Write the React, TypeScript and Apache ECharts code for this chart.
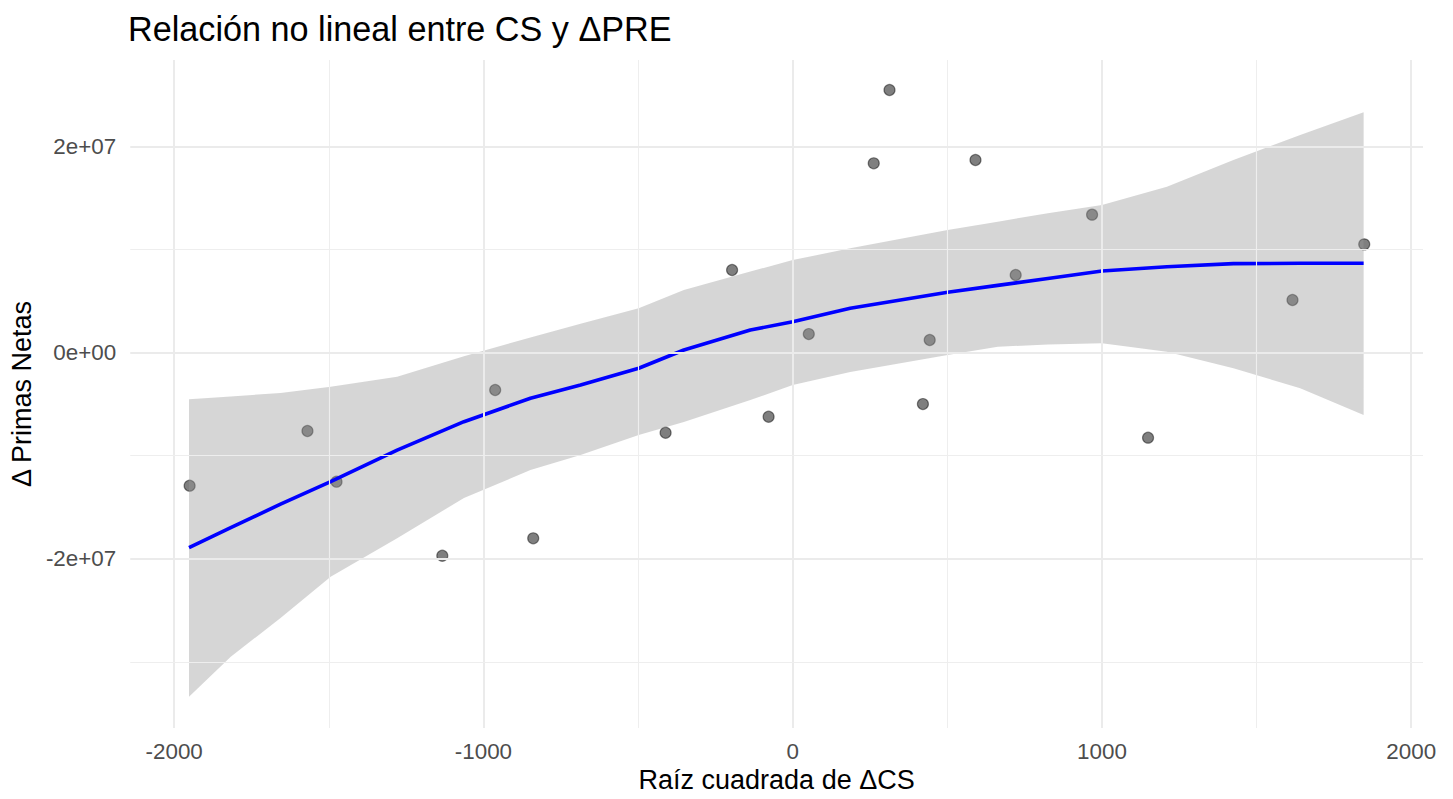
import React, { useEffect, useRef } from "react";
import * as echarts from "echarts";

// Observed points (x: raíz cuadrada de ΔCS, y: Δ Primas Netas)
const pointX = [-1950, -1569, -1475, -1133, -962, -839, -411, -196, -78, 52, 262, 313, 421, 443, 591, 721, 968, 1149, 1616, 1848];
const pointY = [-1.292e7, -0.761e7, -1.253e7, -1.971e7, -0.364e7, -1.802e7, -0.778e7, 0.8e7, -0.623e7, 0.179e7, 1.835e7, 2.546e7, -0.5e7, 0.121e7, 1.867e7, 0.752e7, 1.337e7, -0.826e7, 0.509e7, 1.049e7];

// Smoothed fit and its confidence band
const fitX = [-1952, -1817, -1656, -1494, -1279, -1063, -848, -686, -498, -352, -137, 0, 186, 501, 663, 825, 1000, 1210, 1425, 1641, 1846];
const fitY = [-1.893e7, -1.698e7, -1.471e7, -1.253e7, -0.946e7, -0.671e7, -0.444e7, -0.315e7, -0.153e7, 0.024e7, 0.218e7, 0.299e7, 0.429e7, 0.584e7, 0.651e7, 0.718e7, 0.79e7, 0.832e7, 0.862e7, 0.865e7, 0.865e7];
const bandUpper = [-0.454e7, -0.426e7, -0.392e7, -0.332e7, -0.235e7, -0.036e7, 0.146e7, 0.278e7, 0.429e7, 0.606e7, 0.785e7, 0.897e7, 1.01e7, 1.188e7, 1.269e7, 1.35e7, 1.431e7, 1.608e7, 1.867e7, 2.11e7, 2.33e7];
const bandLower = [-3.339e7, -2.951e7, -2.575e7, -2.175e7, -1.802e7, -1.411e7, -1.14e7, -0.994e7, -0.8e7, -0.674e7, -0.461e7, -0.315e7, -0.189e7, -0.024e7, 0.056e7, 0.078e7, 0.089e7, 0.008e7, -0.153e7, -0.347e7, -0.606e7];

// Axis ticks and grid lines
const xTicks = [-2000, -1000, 0, 1000, 2000];
const xMinorGrid = [-1500, -500, 500, 1500];
const yTicks = [-2e7, 0, 2e7];
const yMinorGrid = [-3e7, -1e7, 1e7];

const FONT = "'Liberation Sans', Arial, Helvetica, sans-serif";

function sci(v: number): string {
  if (v === 0) return "0e+00";
  const e = Math.floor(Math.log10(Math.abs(v)));
  const m = v / Math.pow(10, e);
  const es = (e < 0 ? "-" : "+") + String(Math.abs(e)).padStart(2, "0");
  return `${Number(m.toFixed(2))}e${es}`;
}

export default function App() {
  const ref = useRef<HTMLDivElement>(null);
  useEffect(() => {
    if (!ref.current) return;
    const chart = echarts.init(ref.current, null, { renderer: "svg" });
    const major = { color: "#EBEBEB", width: 2, type: "solid" as const };
    const minor = { color: "#EEEEEE", width: 1.1, type: "solid" as const };
    const gridData = [
      ...xTicks.map((v) => ({ xAxis: v, lineStyle: major })),
      ...xMinorGrid.map((v) => ({ xAxis: v, lineStyle: minor })),
      ...yTicks.map((v) => ({ yAxis: v, lineStyle: major })),
      ...yMinorGrid.map((v) => ({ yAxis: v, lineStyle: minor })),
    ];
    const bandData = fitX.map((x, i) => [x, bandLower[i], bandUpper[i]]);
    chart.setOption({
      animation: false,
      backgroundColor: "#FFFFFF",
      textStyle: { fontFamily: FONT },
      title: {
        text: "Relación no lineal entre CS y ΔPRE",
        left: 128,
        top: 12,
        padding: 0,
        textStyle: { fontFamily: FONT, fontSize: 34.2, fontWeight: "normal", color: "#000000" },
      },
      grid: { left: 129.6, right: 30, top: 60, bottom: 71 },
      xAxis: {
        type: "value",
        min: -2142,
        max: 2038,
        axisLine: { show: false },
        axisTick: { show: false },
        splitLine: { show: false },
        axisLabel: {
          customValues: xTicks,
          formatter: (v: number) => String(v),
          color: "#4D4D4D",
          fontSize: 22.4,
          fontFamily: FONT,
          margin: 12,
          showMinLabel: true,
          showMaxLabel: true,
        },
        name: "Raíz cuadrada de ΔCS",
        nameLocation: "middle",
        nameGap: 35,
        nameTextStyle: { color: "#000000", fontSize: 27, fontFamily: FONT },
      },
      yAxis: {
        type: "value",
        min: -3.642e7,
        max: 2.837e7,
        axisLine: { show: false },
        axisTick: { show: false },
        splitLine: { show: false },
        axisLabel: {
          customValues: yTicks,
          formatter: (v: number) => sci(v),
          color: "#4D4D4D",
          fontSize: 22.4,
          fontFamily: FONT,
          margin: 14,
          showMinLabel: true,
          showMaxLabel: true,
        },
        name: "Δ Primas Netas",
        nameLocation: "middle",
        nameGap: 93,
        nameTextStyle: { color: "#000000", fontSize: 27, fontFamily: FONT },
      },
      series: [
        {
          name: "grid",
          type: "line",
          data: [],
          z: 1,
          silent: true,
          markLine: {
            silent: true,
            symbol: ["none", "none"],
            label: { show: false },
            animation: false,
            data: gridData,
          },
        },
        {
          name: "puntos",
          type: "scatter",
          z: 2,
          data: pointX.map((x, i) => [x, pointY[i]]),
          symbol: "circle",
          symbolSize: 11,
          itemStyle: {
            color: "rgba(0,0,0,0.5)",
            borderColor: "rgba(0,0,0,0.45)",
            borderWidth: 1.2,
            opacity: 1,
          },
        },
        {
          name: "banda",
          type: "custom",
          z: 3,
          silent: true,
          data: bandData,
          encode: { x: 0, y: [1, 2] },
          renderItem: (params: any, api: any) => {
            if (params.dataIndex !== 0) return null;
            const upper = fitX.map((x, i) => api.coord([x, bandUpper[i]]));
            const lower = fitX.map((x, i) => api.coord([x, bandLower[i]])).reverse();
            return {
              type: "polygon",
              shape: { points: [...upper, ...lower] },
              style: { fill: "rgba(153,153,153,0.4)", stroke: "none" },
            };
          },
        },
        {
          name: "ajuste",
          type: "line",
          z: 4,
          data: fitX.map((x, i) => [x, fitY[i]]),
          showSymbol: false,
          smooth: false,
          lineStyle: { color: "#0000FF", width: 3.6 },
          silent: true,
        },
      ],
    });
    return () => chart.dispose();
  }, []);
  return (
    <div
      ref={ref}
      style={{ position: "fixed", left: 0, top: 0, width: 1453, height: 799, background: "#fff" }}
    />
  );
}
